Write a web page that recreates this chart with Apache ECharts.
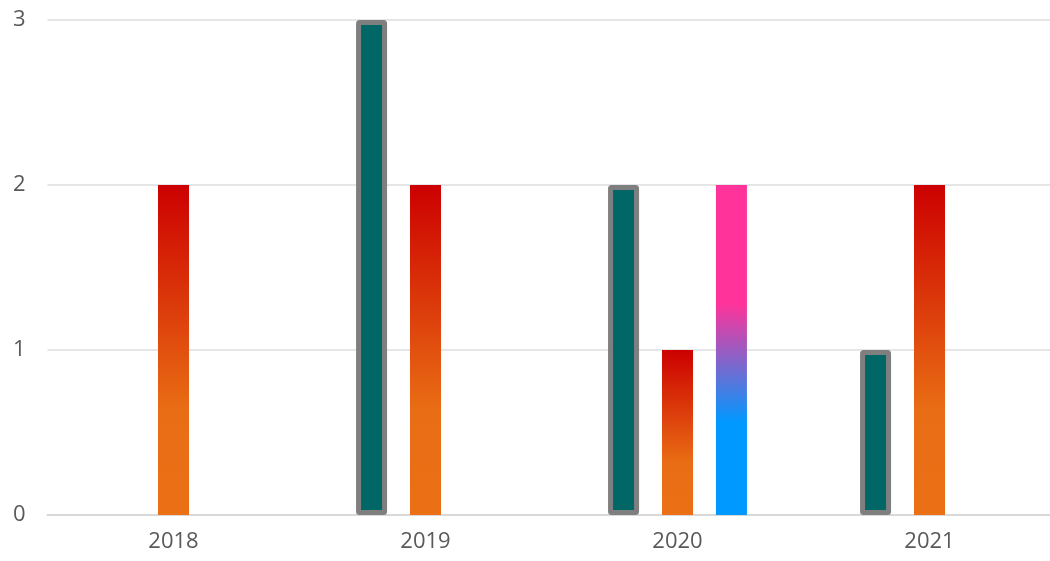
<!DOCTYPE html>
<html>
<head>
<meta charset="utf-8">
<script src="https://cdn.jsdelivr.net/npm/echarts@6/dist/echarts.min.js"></script>
<style>html,body{margin:0;padding:0;background:#fff}#c{width:1050px;height:561px}</style>
</head>
<body>
<div id="c"></div>
<script>
const categories = ['2018', '2019', '2020', '2021'];
const tealValues = [0, 3, 2, 1];
const redValues = [2, 2, 1, 2];
const pinkValues = [0, 0, 2, 0];
const yTicks = [0, 1, 2, 3];

const toData = arr => arr.map(v => (v === 0 ? null : v));
const chart = echarts.init(document.getElementById('c'));
const font = '"Open Sans", Arial, sans-serif';
chart.setOption({
  animation: false,
  grid: { left: 47.5, right: -5.5, top: 20, bottom: 46, outerBoundsMode: 'none', containLabel: false },
  xAxis: {
    type: 'category',
    data: categories,
    axisLine: { lineStyle: { color: '#d9d9d9', width: 2 } },
    axisTick: { show: false },
    axisLabel: { color: '#595959', fontSize: 22, fontFamily: font, margin: 16 }
  },
  yAxis: {
    type: 'value',
    min: yTicks[0],
    max: yTicks[yTicks.length - 1],
    interval: 1,
    axisLine: { show: false },
    axisTick: { show: false },
    splitLine: { lineStyle: { color: '#dedede', width: 1.5 } },
    axisLabel: { color: '#595959', fontSize: 22, fontFamily: font, margin: 22 }
  },
  series: [
    {
      type: 'bar',
      data: toData(tealValues),
      barWidth: 31,
      barGap: '74%',
      itemStyle: { color: '#006666', borderColor: '#7f7f7f', borderWidth: 5, borderRadius: 1 }
    },
    {
      type: 'bar',
      data: toData(redValues),
      barWidth: 31,
      itemStyle: {
        color: new echarts.graphic.LinearGradient(0, 0, 0, 1, [
          { offset: 0, color: '#cc0000' },
          { offset: 0.68, color: '#e96d14' },
          { offset: 1, color: '#ea6f15' }
        ])
      }
    },
    {
      type: 'bar',
      data: toData(pinkValues),
      barWidth: 31,
      itemStyle: {
        color: new echarts.graphic.LinearGradient(0, 0, 0, 1, [
          { offset: 0, color: '#ff3399' },
          { offset: 0.36, color: '#ff3399' },
          { offset: 0.72, color: '#0099ff' },
          { offset: 1, color: '#0099ff' }
        ])
      }
    }
  ]
});
</script>
</body>
</html>
